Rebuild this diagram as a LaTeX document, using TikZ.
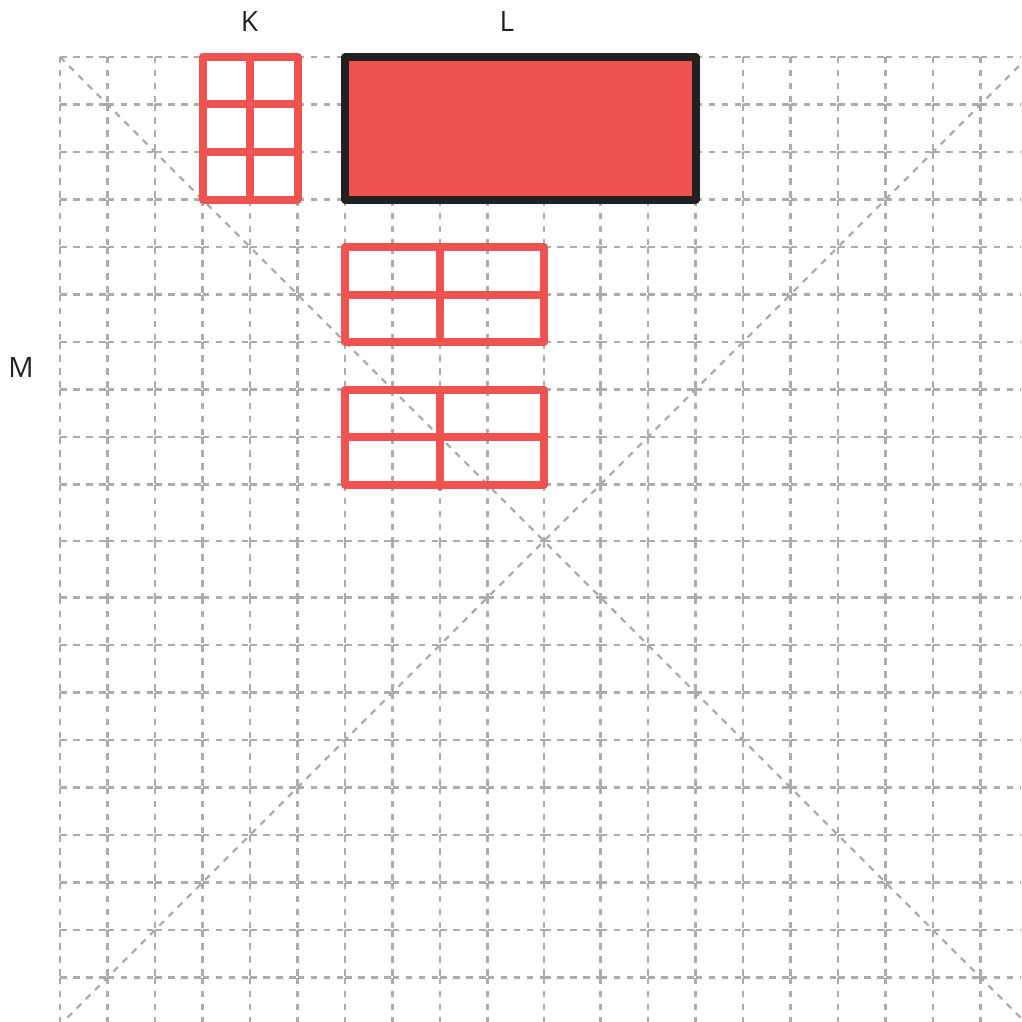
\documentclass[tikz,border=0pt]{standalone}
\usepackage{fontspec}
\setmainfont{Open Sans}
\definecolor{gridgray}{RGB}{172,172,172}
\definecolor{redfill}{RGB}{239,83,80}
\definecolor{darkline}{RGB}{33,33,33}
\tikzset{
  gridline/.style={draw=gridgray, line width=2.4pt, dash pattern=on 6.5pt off 6.5pt},
  redgrid/.style={draw=redfill, line width=8pt, line join=round},
  darkbox/.style={draw=darkline, fill=redfill, line width=8pt, line join=round},
  axislabel/.style={font=\fontsize{28}{32}\selectfont, text=darkline, inner sep=0pt, anchor=base}
}
\begin{document}
\begin{tikzpicture}[x=1pt,y=-1pt]
\useasboundingbox (0,0) rectangle (1021,1022);
\begin{scope}
\clip (0,0) rectangle (1021,1022);
% horizontal grid segments
\foreach \y in {57,104.5,152,199.5,247,294.5,342,389.5,437,484.5,541,597.5,645,692.5,740,787.5,835,882.5,930,977.5,1025} {
  \foreach \xa/\xb in {60/107.5,107.5/155,155/202.5,202.5/250,250/297.5,297.5/345,345/392.5,392.5/440,440/487.5,487.5/544,544/600.5,600.5/648,648/695.5,695.5/743,743/790.5,790.5/838,838/885.5,885.5/933,933/980.5,980.5/1028} {
    \draw[gridline] (\xa,\y) -- (\xb,\y);
  }
}
% vertical grid segments
\foreach \x in {60,107.5,155,202.5,250,297.5,345,392.5,440,487.5,544,600.5,648,695.5,743,790.5,838,885.5,933,980.5,1028} {
  \foreach \ya/\yb in {57/104.5,104.5/152,152/199.5,199.5/247,247/294.5,294.5/342,342/389.5,389.5/437,437/484.5,484.5/541,541/597.5,597.5/645,645/692.5,692.5/740,740/787.5,787.5/835,835/882.5,882.5/930,930/977.5,977.5/1025} {
    \draw[gridline] (\x,\ya) -- (\x,\yb);
  }
}
% diagonals
\draw[gridline] (60,57) -- (1028,1025);
\draw[gridline] (1028,57) -- (60,1025);
\end{scope}

% K grid
\draw[redgrid] (202.5,57) rectangle (297.5,199.5);
\draw[redgrid] (250,57) -- (250,199.5);
\draw[redgrid] (202.5,104.5) -- (297.5,104.5);
\draw[redgrid] (202.5,152) -- (297.5,152);

% L box
\draw[darkbox] (345,57) rectangle (695.5,199.5);

% grid 1
\draw[redgrid] (345,247) rectangle (544,342);
\draw[redgrid] (440,247) -- (440,342);
\draw[redgrid] (345,294.5) -- (544,294.5);

% grid 2
\draw[redgrid] (345,389.5) rectangle (544,484.5);
\draw[redgrid, line cap=round] (440,389.5) -- (440,486.5);
\draw[redgrid] (345,437) -- (544,437);

% labels
\node[axislabel] (K) at (249.5,32) {K};
\node[axislabel] (L) at (507,32) {L};
\node[axislabel] (M) at (21,377) {M};
\end{tikzpicture}
\end{document}
